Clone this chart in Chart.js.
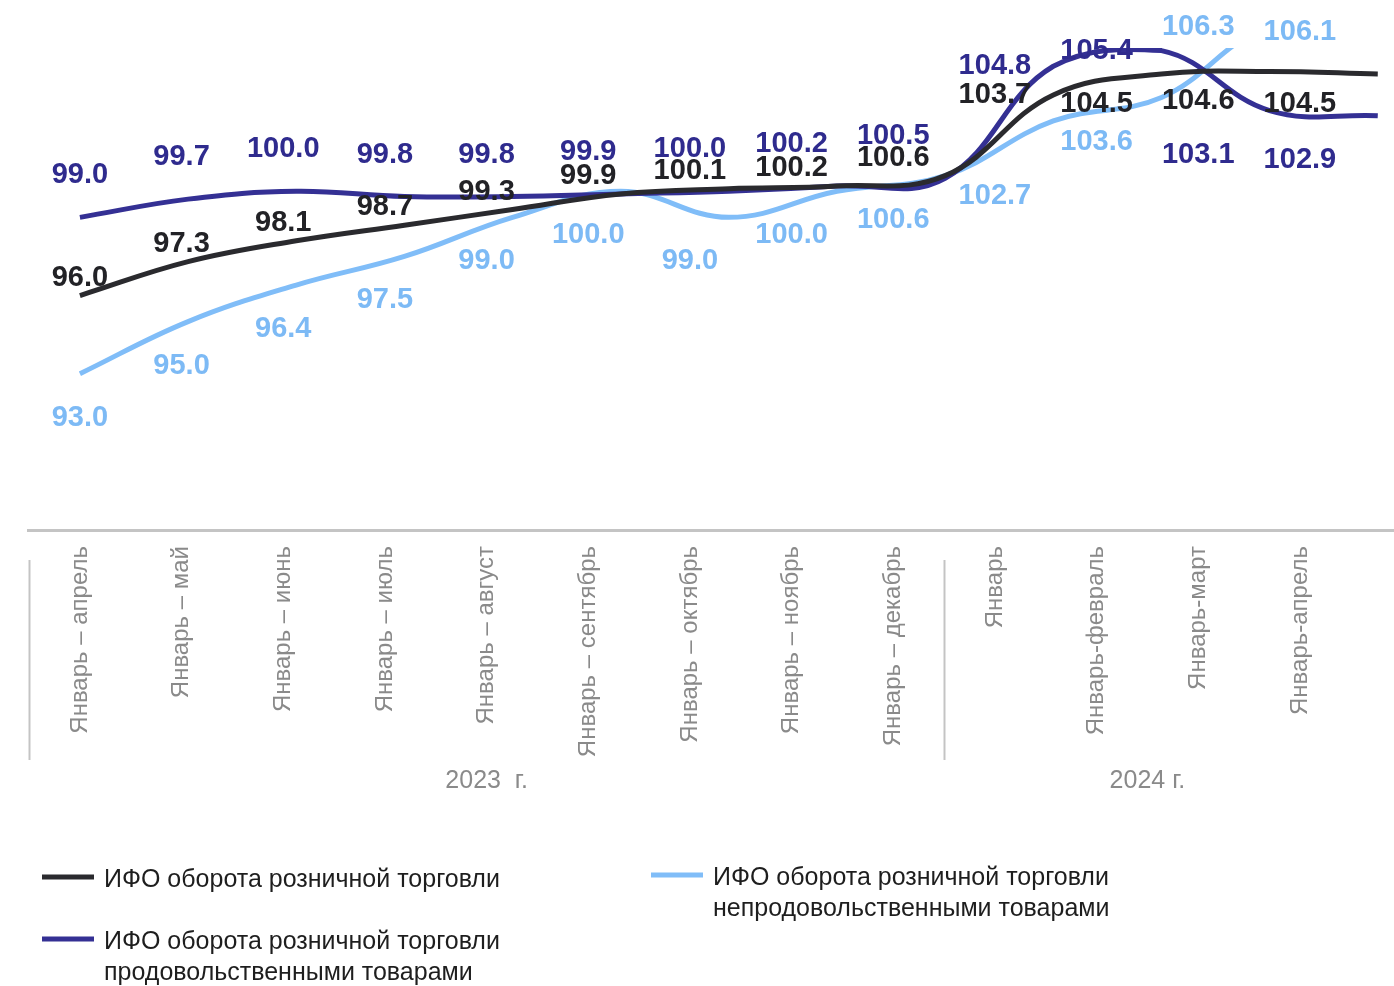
<!DOCTYPE html>
<html>
<head>
<meta charset="utf-8">
<script src="https://cdn.jsdelivr.net/npm/chart.js@4/dist/chart.umd.min.js"></script>
<style>
  html, body { margin: 0; padding: 0; background: #ffffff; }
  #wrap { position: relative; width: 1394px; height: 986px; }
</style>
</head>
<body>
<div id="wrap"><canvas id="c"></canvas></div>
<script>
// ---- data ----
const categories = [
  'Январь – апрель', 'Январь – май', 'Январь – июнь', 'Январь – июль',
  'Январь – август', 'Январь – сентябрь', 'Январь – октябрь', 'Январь – ноябрь',
  'Январь – декабрь', 'Январь', 'Январь-февраль', 'Январь-март', 'Январь-апрель'
];
const yearLabels = ['2023  г.', '2024 г.'];
const yearGroupSizes = [9, 4];

const totalRetail   = [96.0, 97.3, 98.1, 98.7, 99.3, 99.9, 100.1, 100.2, 100.6, 103.7, 104.5, 104.6, 104.5];
const foodRetail    = [99.0, 99.7, 100.0, 99.8, 99.8, 99.9, 100.0, 100.2, 100.5, 104.8, 105.4, 103.1, 102.9];
const nonFoodRetail = [93.0, 95.0, 96.4, 97.5, 99.0, 100.0, 99.0, 100.0, 100.6, 102.7, 103.6, 106.3, 106.1];

const legendTotal   = ['ИФО оборота розничной торговли'];
const legendFood    = ['ИФО оборота розничной торговли', 'продовольственными товарами'];
const legendNonFood = ['ИФО оборота розничной торговли', 'непродовольственными товарами'];

// label placement: a = above, b = below, d = far below, c = centred on value
const placeTotal   = ['a','a','a','a','a','a','a','a','a','c','b','b','b'];
const placeFood    = ['a','a','a','a','a','a','a','a','a','c','c','b','b'];
const placeNonFood = ['b','b','b','b','b','b','b','b','b','d','b','c','c'];

// category labels sit on a slightly tighter spacing than the line points (as in the original)
const LABEL_SPREAD = 0.94;

const FONT = "'Liberation Sans', Arial, sans-serif";
const GREY = '#8a8a8a';

function pts(arr) { return arr.map((v, i) => ({ x: i, y: v })); }

const datasets = [
  { label: legendTotal.join(' '), legendLines: legendTotal, data: pts(totalRetail),
    borderColor: '#2a2a2e', labelColor: '#222226', place: placeTotal, up: 18, down: 30 },
  { label: legendFood.join(' '), legendLines: legendFood, data: pts(foodRetail),
    borderColor: '#343094', labelColor: '#2f2b8e', place: placeFood, up: 42, down: 44 },
  { label: legendNonFood.join(' '), legendLines: legendNonFood, data: pts(nonFoodRetail),
    borderColor: '#80bdf8', labelColor: '#7dbaf5', place: placeNonFood, up: 40, down: 44 }
].map(d => Object.assign(d, { borderWidth: 5, pointRadius: 0, tension: 0.4, fill: false }));

const extrasPlugin = {
  id: 'extras',
  afterDatasetsDraw(chart) {
    const ctx = chart.ctx;
    const xs = chart.scales.x;
    ctx.save();
    ctx.font = 'bold 29px ' + FONT;
    ctx.textAlign = 'center';
    ctx.textBaseline = 'middle';
    chart.data.datasets.forEach((ds, di) => {
      const meta = chart.getDatasetMeta(di);
      meta.data.forEach((el, i) => {
        const p = ds.place[i];
        const dy = p === 'a' ? -ds.up : p === 'b' ? ds.down : p === 'd' ? ds.down * 1.7 : 0;
        const x = xs.getPixelForValue(ds.data[i].x * LABEL_SPREAD);
        ctx.fillStyle = ds.labelColor;
        ctx.fillText(ds.data[i].y.toFixed(1), x, el.y + dy);
      });
    });
    ctx.restore();
  },
  afterDraw(chart) {
    const ctx = chart.ctx;
    const xs = chart.scales.x;
    const area = chart.chartArea;
    ctx.save();
    // group separators and year labels
    ctx.strokeStyle = '#c4c4c4';
    ctx.lineWidth = 2;
    ctx.fillStyle = GREY;
    ctx.font = '25px ' + FONT;
    ctx.textAlign = 'center';
    ctx.textBaseline = 'middle';
    let start = 0;
    yearGroupSizes.forEach((n, gi) => {
      const xl = Math.round(xs.getPixelForValue((start - 0.5) * LABEL_SPREAD)) + 0.5;
      ctx.beginPath();
      ctx.moveTo(xl, area.bottom + 30);
      ctx.lineTo(xl, area.bottom + 230);
      ctx.stroke();
      const xc = xs.getPixelForValue((start + (n - 1) / 2) * LABEL_SPREAD);
      ctx.fillText(yearLabels[gi], xc, area.bottom + 251);
      start += n;
    });
    // legend
    const slots = [{ x: 42, y: 880 }, { x: 42, y: 942 }, { x: 651, y: 878 }];
    ctx.font = '25px ' + FONT;
    ctx.textAlign = 'left';
    chart.data.datasets.forEach((ds, di) => {
      const s = slots[di];
      ctx.strokeStyle = ds.borderColor;
      ctx.lineWidth = 5;
      ctx.beginPath();
      ctx.moveTo(s.x, s.y - 3);
      ctx.lineTo(s.x + 52, s.y - 3);
      ctx.stroke();
      ctx.fillStyle = '#1e1e1e';
      ds.legendLines.forEach((t, li) => ctx.fillText(t, s.x + 62, s.y + li * 31));
    });
    ctx.restore();
  }
};

new Chart(document.getElementById('c'), {
  type: 'line',
  data: { datasets },
  options: {
    responsive: true,
    maintainAspectRatio: false,
    animation: false,
    layout: { padding: { top: 48, left: 28, right: 0, bottom: 0 } },
    plugins: { legend: { display: false }, tooltip: { enabled: false } },
    scales: {
      x: {
        type: 'linear',
        min: -0.48, max: 12.15,
        afterBuildTicks(axis) { axis.ticks = categories.map((_, i) => ({ value: i * LABEL_SPREAD })); },
        afterFit(axis) { axis.height = 456; axis.paddingLeft = 0; axis.paddingRight = 0; },
        grid: { display: false, drawTicks: false },
        border: { display: true, color: '#c4c4c4', width: 3 },
        ticks: {
          autoSkip: false, minRotation: 90, maxRotation: 90, padding: 16,
          color: GREY, font: { family: FONT, size: 24 },
          callback: (v, idx) => categories[idx]
        }
      },
      y: { display: false, min: 87, max: 105.5 }
    }
  },
  plugins: [extrasPlugin]
});
</script>
</body>
</html>
